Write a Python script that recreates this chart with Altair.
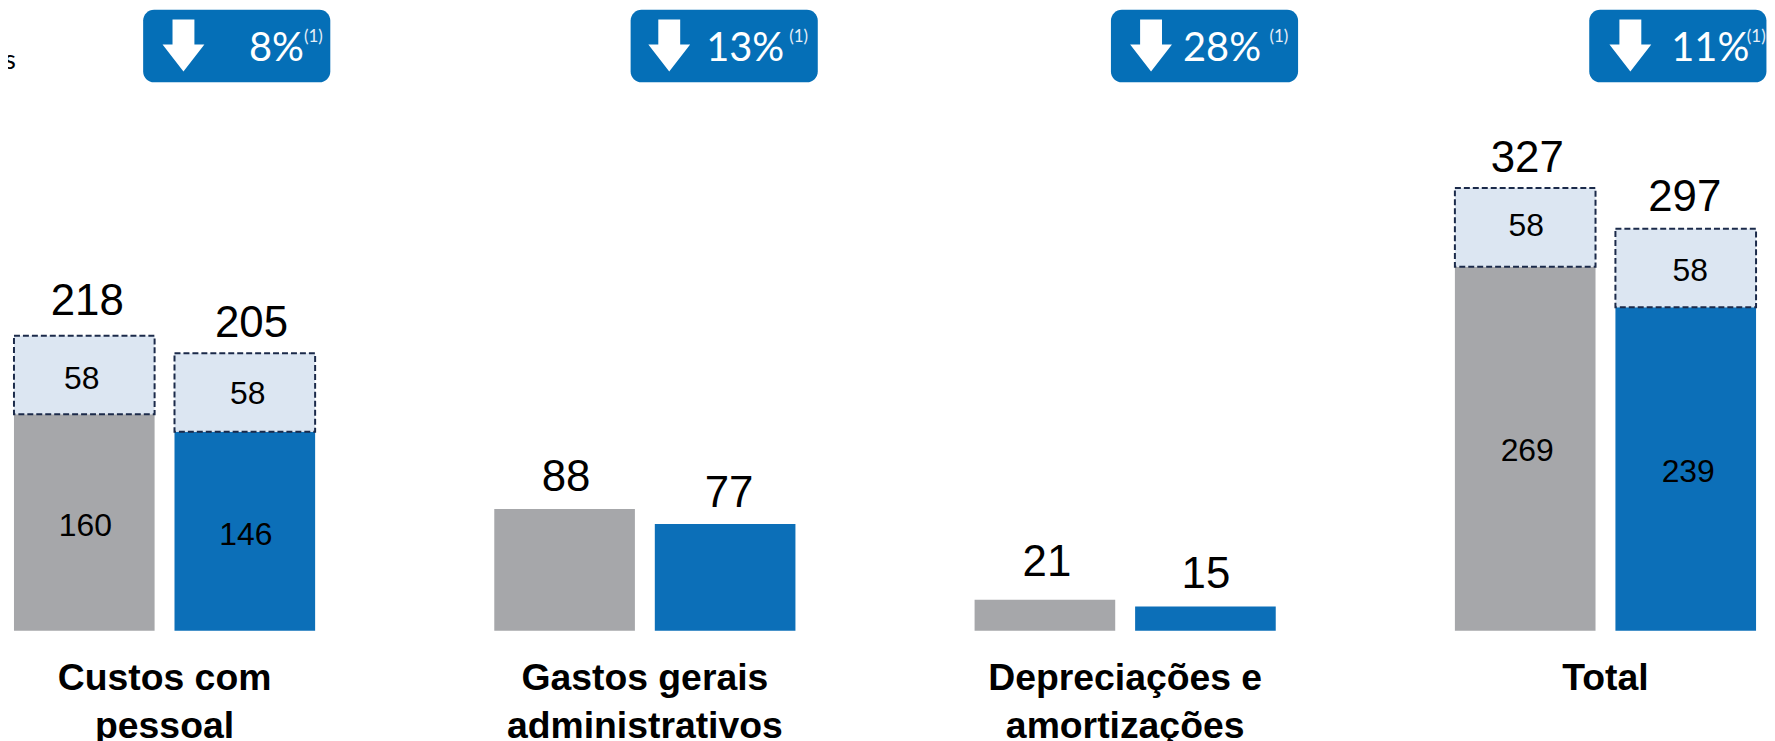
import altair as alt
import pandas as pd

groups = ["Custos com\npessoal", "Gastos gerais\nadministrativos", "Depreciações e\namortizações", "Total"]
periods = ["A", "B"]

base_a = [160, 90, 23, 269]
base_b = [147, 79, 18, 239]
extra_a = [58, 0, 0, 58]
extra_b = [58, 0, 0, 58]
total_a = ["218", "88", "21", "327"]
total_b = ["205", "77", "15", "297"]
inner_a = ["160", "", "", "269"]
inner_b = ["146", "", "", "239"]
change = ["8%", "13%", "28%", "11%"]
note = "(1)"

GRAY, BLUE, PALE, NAVY, BADGE = "#A6A7AA", "#0C6FB8", "#DCE6F2", "#1B2A4A", "#056FB7"
BADGE_W = [188, 188, 188, 178]
BADGE_DX = [72.5, 79.7, 79.7, 72.7]
ARROW_DX = [19, 24.5, 26, 25]
PCT_DX = [140, 140, 136.5, 144.5]
SUP_DX = [140, 145, 145, 142]
TOP_DX = [[3, 6.7], [1.5, 4], [2, 0.5], [2, -1]]
TOP_DY = [[21, 16.5], [18, 17], [24, 19], [16, 17.5]]
BASE_DX = [[1, 1], [0, 0], [0, 0], [2, 2.5]]
BASE_DY = [[4, 3.5], [0, 0], [0, 0], [2, 3]]
EXTRA_DX = [[-2.5, 3], [0, 0], [0, 0], [1, 4.5]]
EXTRA_DY = [[4, 2], [0, 0], [0, 0], [-1, 3]]
ARROW = "M-.423,-1 L.423,-1 L.423,-.04 L.808,-.04 L0,1 L-.808,-.04 L-.423,-.04 Z"

rows = []
for i, g in enumerate(groups):
    for j, (p, b, e, t, n) in enumerate(((periods[0], base_a[i], extra_a[i], total_a[i], inner_a[i]),
                                         (periods[1], base_b[i], extra_b[i], total_b[i], inner_b[i]))):
        rows.append(dict(group=g, gi=i, pi=j, period=p, base=b, top=b + e, zero=0, extra=e, total=t, inner=n,
                         base_mid=b / 2, extra_mid=b + e / 2, key=p))
df = pd.DataFrame(rows)

band = alt.Scale(domain=groups, range=[6, 1756], paddingInner=0.373, paddingOuter=0)
x_enc = alt.X("group:N", sort=groups, scale=band,
              axis=alt.Axis(title=None, domain=False, ticks=False, labelAngle=0,
                            labelExpr="split(datum.value, '\\n')", labelFont="Liberation Sans",
                            labelFontWeight="bold", labelFontSize=37.5, labelColor="#000000",
                            labelLineHeight=48, labelPadding=29, labelLimit=400, labelOverlap=False))
x_plain = alt.X("group:N", sort=groups, scale=band)
off = alt.XOffset("period:N", sort=periods, scale=alt.Scale(domain=periods, paddingInner=0.124, paddingOuter=0))
y_scale = alt.Scale(domain=[0, 458.8], nice=False)
y_none = alt.Axis(title=None, labels=False, ticks=False, domain=False, grid=False)

bars = alt.Chart(df).mark_bar().encode(
    x=x_enc, xOffset=off,
    y=alt.Y("zero:Q", scale=y_scale, axis=y_none), y2="base:Q",
    color=alt.Color("key:N", scale=alt.Scale(domain=periods, range=[GRAY, BLUE]), legend=None))

boxes = alt.Chart(df[df.extra > 0]).mark_bar(fill=PALE, stroke=NAVY, strokeWidth=2, strokeDash=[6, 3]).encode(
    x=x_plain, xOffset=off, y=alt.Y("base:Q", scale=y_scale), y2="top:Q")

layers = [bars, boxes]

for _, r in df.iterrows():
    one = df[(df.gi == r.gi) & (df.pi == r.pi)]
    i, j = int(r.gi), int(r.pi)
    layers.append(alt.Chart(one).mark_text(font="Liberation Sans", fontSize=44, color="#000", baseline="alphabetic",
                                           dx=TOP_DX[i][j], dy=-TOP_DY[i][j]).encode(
        x=x_plain, xOffset=off, y=alt.Y("top:Q", scale=y_scale), text="total:N"))
    if r.extra > 0:
        layers.append(alt.Chart(one).mark_text(font="Liberation Sans", fontSize=32, color="#000",
                                               dx=EXTRA_DX[i][j], dy=EXTRA_DY[i][j]).encode(
            x=x_plain, xOffset=off, y=alt.Y("extra_mid:Q", scale=y_scale), text="extra:N"))
    if r.inner != "":
        layers.append(alt.Chart(one).mark_text(font="Liberation Sans", fontSize=32, color="#000",
                                               dx=BASE_DX[i][j], dy=BASE_DY[i][j]).encode(
            x=x_plain, xOffset=off, y=alt.Y("base_mid:Q", scale=y_scale), text="inner:N"))

for i, g in enumerate(groups):
    one = pd.DataFrame(dict(group=[g], pct=[change[i]], sup=[note]))
    layers.append(alt.Chart(one).mark_bar(width=BADGE_W[i], cornerRadius=11, fill=BADGE, xOffset=BADGE_DX[i]).encode(
        x=x_plain, y=alt.value(0), y2=alt.value(73)))
    layers.append(alt.Chart(one).mark_point(shape=ARROW, size=2704, filled=True, fill="#FFFFFF", opacity=1,
                                            strokeWidth=0, xOffset=ARROW_DX[i]).encode(
        x=x_plain, y=alt.value(36)))
    layers.append(alt.Chart(one).mark_text(font="Lato", fontSize=40, color="#FFFFFF", align="right",
                                           baseline="alphabetic", dx=PCT_DX[i]).encode(
        x=x_plain, y=alt.value(52), text="pct:N"))
    layers.append(alt.Chart(one).mark_text(font="Lato", fontSize=17, color="#E4EEF7", align="left",
                                           baseline="alphabetic", dx=SUP_DX[i]).encode(
        x=x_plain, y=alt.value(32), text="sup:N"))

stray = alt.Chart(pd.DataFrame(dict(t=["es"]))).mark_text(font="Lato", fontSize=27, color="#000", align="right",
                                                          baseline="alphabetic").encode(
    x=alt.value(8), y=alt.value(60), text="t:N")
layers.append(stray)

chart = alt.layer(*layers).properties(
    width=1767, height=624,
    autosize=alt.AutoSizeParams(type="none"),
    padding={"left": 0, "top": 0, "right": 0, "bottom": 109},
).configure_view(stroke=None)

chart.save("out.html", embed_options={"renderer": "svg", "actions": False})
